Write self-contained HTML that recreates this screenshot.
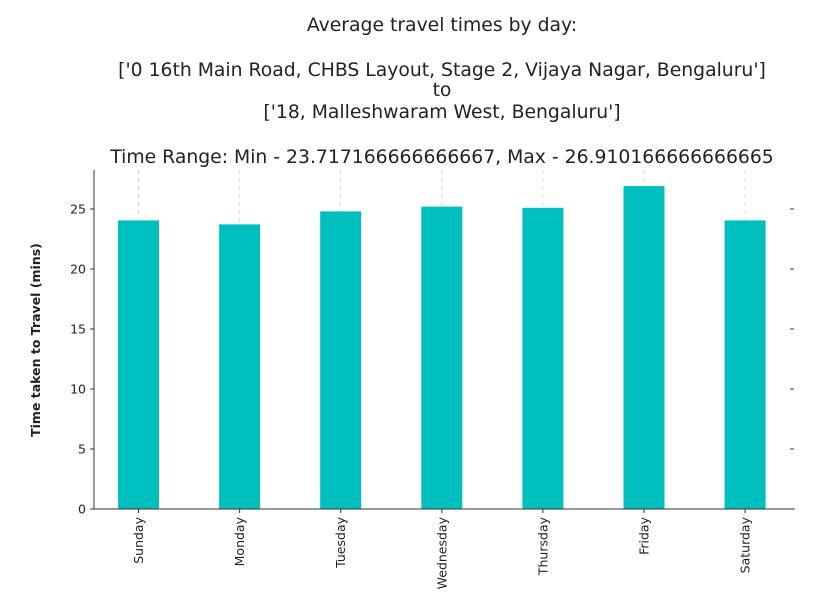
<!DOCTYPE html>
<html><head><meta charset="utf-8"><style>
body{margin:0;background:#fff;width:814px;height:601px;overflow:hidden}
svg text{font-family:"DejaVu Sans","Liberation Sans",sans-serif;fill:#222}
</style></head><body>
<svg id="c" width="814" height="601">
<g text-anchor="middle">
<text x="442" y="31" font-size="18.8">Average travel times by day:</text>
<text x="442" y="76" font-size="18.8">['0 16th Main Road, CHBS Layout, Stage 2, Vijaya Nagar, Bengaluru']</text>
<text x="442" y="96" font-size="18.8">to</text>
<text x="442" y="118" font-size="18.8">['18, Malleshwaram West, Bengaluru']</text>
<text x="442" y="163" font-size="18.8">Time Range: Min - 23.717166666666667, Max - 26.910166666666665</text>
</g>
<text transform="translate(40,340) rotate(-90)" text-anchor="middle" font-size="12.5" font-weight="bold">Time taken to Travel (mins)</text>
<g id="plot"></g>
</svg>
<script>
const days=["Sunday","Monday","Tuesday","Wednesday","Thursday","Friday","Saturday"];
const times=[24.05,23.72,24.8,25.2,25.1,26.91,24.05];
const yTicks=[0,5,10,15,20,25];
const X0=94,X1=795,Y0=509,YT=170,ymax=28.25;
const ns="http://www.w3.org/2000/svg",g=document.getElementById("plot");
const y=v=>Y0-(Y0-YT)*v/ymax;
const step=101.1;
const x=i=>138.5+step*i;
function mk(t,a){const e=document.createElementNS(ns,t);for(const k in a)e.setAttribute(k,a[k]);g.appendChild(e);return e;}
days.forEach((d,i)=>{
 const gl=mk("line",{x1:x(i),x2:x(i),y1:YT,y2:Y0,stroke:"#ddd","stroke-dasharray":"4,4"});
 
 
 const b=mk("rect",{x:x(i)-20.5,width:41,y:y(times[i]),height:Y0-y(times[i]),fill:"#00bfbf"});
 
 
 const tk=mk("line",{x1:x(i),x2:x(i),y1:Y0,y2:Y0+4,stroke:"#333"});
 
 
 const t=mk("text",{transform:`translate(${x(i)+4.5},${Y0+8}) rotate(-90)`,"text-anchor":"end","font-size":"12.5"});
 t.textContent=d;
 
 
});
yTicks.forEach(v=>{
 const l=mk("line",{x1:X0-4,x2:X0,y1:y(v),y2:y(v),stroke:"#333"});
 
 
 if(v>0){const r=mk("line",{x1:790,x2:794,y1:y(v),y2:y(v),stroke:"#333"});
 
 }
 const t=mk("text",{x:X0-8,y:y(v)+4.5,"text-anchor":"end","font-size":"12.5"});
 t.textContent=v;
 
 
});
const ax=mk("line",{x1:X0,x2:X0,y1:YT,y2:Y0,stroke:"#333"});


const bx=mk("line",{x1:X0,x2:X1,y1:Y0,y2:Y0,stroke:"#333"});


</script>
</body></html>
